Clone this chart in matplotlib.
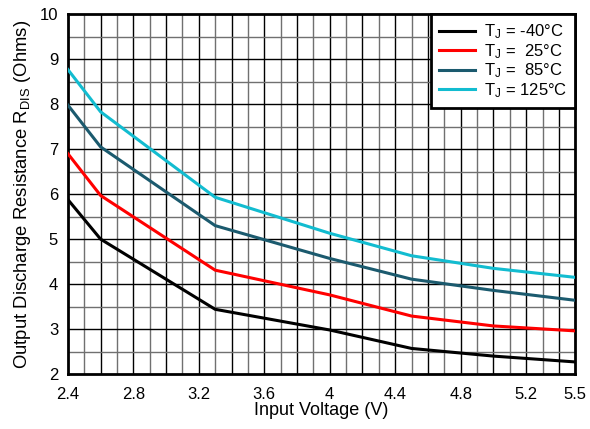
import matplotlib
matplotlib.use("Agg")
import matplotlib.pyplot as plt
import numpy as np

plt.rcParams['font.family'] = ['Liberation Sans', 'DejaVu Sans']
plt.rcParams['mathtext.default'] = 'regular'

# input voltage (V)
vin = [2.4, 2.6, 3.3, 4.0, 4.5, 5.0, 5.5]

# output discharge resistance (Ohms) for each junction temperature
r_m40 = [5.88, 5.0, 3.44, 2.98, 2.57, 2.40, 2.27]
r_25 = [6.9, 5.97, 4.31, 3.76, 3.29, 3.07, 2.96]
r_85 = [7.98, 7.05, 5.30, 4.57, 4.11, 3.86, 3.64]
r_125 = [8.77, 7.83, 5.93, 5.13, 4.63, 4.35, 4.15]

labels = ['T$_J$ = -40°C', 'T$_J$ =  25°C', 'T$_J$ =  85°C', 'T$_J$ = 125°C']
colors = ['#000000', '#ff0000', '#1b5a6e', '#12bcd0']

xticks = [2.4, 2.8, 3.2, 3.6, 4.0, 4.4, 4.8, 5.2, 5.5]
xtick_labels = ['2.4', '2.8', '3.2', '3.6', '4', '4.4', '4.8', '5.2', '5.5']

fig = plt.figure(figsize=(5.9, 4.29), dpi=100)
ax = fig.add_axes([0.115, 0.128, 0.86, 0.839])

# 촘촘한 격자
for i, gx in enumerate(np.arange(2.5, 5.45, 0.1)):
    ax.axvline(gx, color='black' if i % 2 else '#707070', lw=1.0, zorder=1)
for j, gy in enumerate(np.arange(2.5, 9.9, 0.5)):
    ax.axhline(gy, color='#707070' if j % 2 == 0 else 'black', lw=1.0, zorder=1)

for ys, c, lab in zip([r_m40, r_25, r_85, r_125], colors, labels):
    ax.plot(vin, ys, color=c, lw=2.2, label=lab, zorder=3)

ax.set_xlim(2.4, 5.5)
ax.set_ylim(2, 10)
ax.set_xticks(xticks)
ax.set_xticklabels(xtick_labels)
ax.set_yticks(range(2, 11))
ax.tick_params(axis='x', length=0, labelsize=12, pad=9)
ax.tick_params(axis='y', length=0, labelsize=12, pad=7)

for s in ax.spines.values():
    s.set_linewidth(2)

ax.set_xlabel('Input Voltage (V)', fontsize=13, labelpad=0)
ax.set_ylabel('Output Discharge Resistance R$_{DIS}$ (Ohms)', fontsize=13.3, labelpad=5)

leg = ax.legend(loc='upper right', fontsize=12, frameon=True, fancybox=False,
                borderaxespad=0, handlelength=2.15, handletextpad=0.5,
                labelspacing=0.05, borderpad=0.5)
leg.get_frame().set_edgecolor('black')
leg.get_frame().set_linewidth(2)
leg.get_frame().set_alpha(1)
leg.set_zorder(5)

fig.savefig('out.png', dpi=100)
